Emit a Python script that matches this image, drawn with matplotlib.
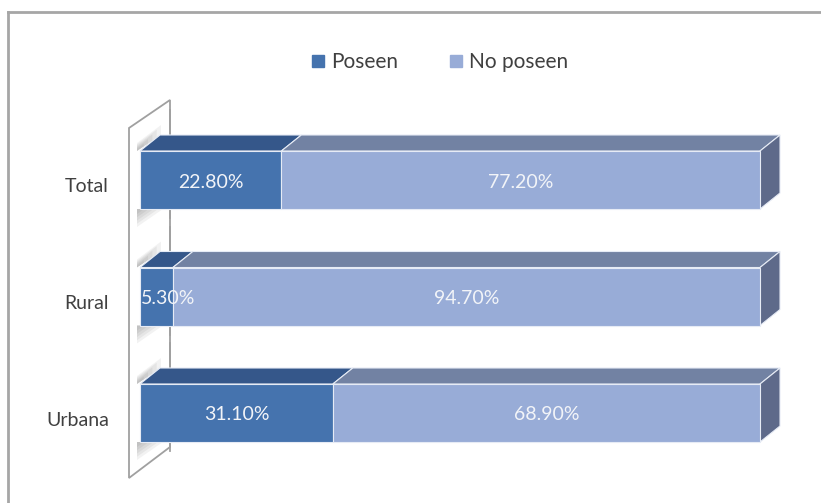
import matplotlib.pyplot as plt
from matplotlib.patches import Polygon
from matplotlib.lines import Line2D

# stacked 3D-style horizontal bars: share owning / not owning, by area
categories = ["Urbana", "Rural", "Total"]
poseen = [31.1, 5.3, 22.8]
no_poseen = [68.9, 94.7, 77.2]
series_names = ["Poseen", "No poseen"]

FRONT = ["#4573ae", "#98acd7"]
TOP = ["#35578a", "#7282a3"]
SIDE = "#5e6a8a"
EDGE = "#e6ebf5"

plt.rcParams["font.family"] = ["Lato", "DejaVu Sans"]

W, H = 821, 503
fig = plt.figure(figsize=(W / 100, H / 100), dpi=100)
ax = fig.add_axes([0, 0, 1, 1])

# pixel layout -> data units (0..100 % spans the plot, one unit per category)
X0, XSCALE = 140, 6.2
Y0, YSCALE = 413, 116.5
ax.set_xlim((0 - X0) / XSCALE, (W - X0) / XSCALE)
ax.set_ylim((Y0 - H) / YSCALE, Y0 / YSCALE)
ax.axis("off")

def dx(px):
    return px / XSCALE

def dy(px):
    return px / YSCALE

bar_h = dy(58)
depth_x, depth_y = dx(20), dy(16)

# side wall of the 3D plot area
wf, wb = dx(-11), dx(30)
wall = [(wf, dy(-65)), (wb, dy(-34)), (wb, dy(313)), (wf, dy(285))]
ax.add_patch(Polygon(wall, closed=True, facecolor="white",
                     edgecolor="#a0a0a0", lw=1.3, zorder=1))

for i, (p, n) in enumerate(zip(poseen, no_poseen)):
    y_bot, y_top = i - bar_h / 2, i + bar_h / 2
    # soft shadows on the wall just above and below the bar ends
    for k in range(5):
        s = 1 - k * 0.18
        ax.add_patch(Polygon([(dx(-3), y_top), (dx(-3) + dx(24) * s, y_top + depth_y * s),
                              (dx(-3) + dx(24) * s, y_top + depth_y * s + dy(10) * s),
                              (dx(-3), y_top + dy(8) * s)],
                             closed=True, facecolor="black", alpha=0.05, lw=0, zorder=1.5))
        ax.add_patch(Polygon([(dx(-3), y_bot), (dx(-3) + dx(26) * s, y_bot),
                              (dx(-3), y_bot - dy(18) * s)],
                             closed=True, facecolor="black", alpha=0.05, lw=0, zorder=1.5))
    ax.plot([wb, wb], [y_top + depth_y + dy(25), y_bot + depth_y - dy(25)],
            color="#a0a0a0", lw=1.3, zorder=1.6)

    left = 0
    for j, v in enumerate([p, n]):
        right = left + v
        top_face = [(left, y_top), (right, y_top),
                    (right + depth_x, y_top + depth_y), (left + depth_x, y_top + depth_y)]
        ax.add_patch(Polygon(top_face, closed=True, facecolor=TOP[j],
                             edgecolor=EDGE, lw=0.8, zorder=2))
        ax.add_patch(Polygon([(left, y_bot), (right, y_bot), (right, y_top), (left, y_top)],
                             closed=True, facecolor=FRONT[j], edgecolor=EDGE,
                             lw=0.8, zorder=3))
        # narrow segments keep their label starting at the bar's left end
        if v < 10:
            tx, ha = left + dx(1), "left"
        else:
            tx, ha = (left + right) / 2, "center"
        ax.text(tx, i - dy(2), f"{v:.2f}%", ha=ha, va="center",
                color="#f2f4f8", fontsize=14, zorder=5)
        left = right
    side_face = [(left, y_bot), (left + depth_x, y_bot + depth_y),
                 (left + depth_x, y_top + depth_y), (left, y_top)]
    ax.add_patch(Polygon(side_face, closed=True, facecolor=SIDE,
                         edgecolor=EDGE, lw=0.8, zorder=2.5))

    ax.text(dx(-31), i - dy(7), categories[i], ha="right", va="center",
            color="#404040", fontsize=14)

handles = [Line2D([], [], marker="s", ls="", markersize=8, color=c) for c in FRONT]
fig.legend(handles, series_names, loc="center", bbox_to_anchor=(440 / W, 1 - 62 / H),
           ncol=2, frameon=False, fontsize=15, handlelength=0.6, handletextpad=0.3,
           columnspacing=2.5, labelcolor="#404040")

# thin frame on the top and left edges
fig.add_artist(Line2D([8 / W, 8 / W], [0, 1 - 12 / H], transform=fig.transFigure,
                      color="#a6a6a6", lw=2))
fig.add_artist(Line2D([8 / W, 1], [1 - 12 / H, 1 - 12 / H], transform=fig.transFigure,
                      color="#a6a6a6", lw=2))

fig.savefig("out.png", dpi=100)
